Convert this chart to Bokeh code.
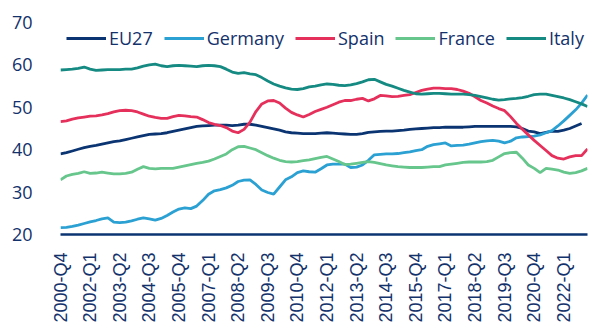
from bokeh.plotting import figure
from bokeh.models import ColumnDataSource, Legend, LegendItem, FixedTicker, Range1d
from bokeh.embed import file_html
from bokeh.resources import INLINE

# ---- data (quarterly, 2000-Q4 .. 2023-Q1) ----
quarters = []
_y, _q = 2000, 4
for _ in range(90):
    quarters.append(f"{_y}-Q{_q}")
    _q += 1
    if _q > 4:
        _q = 1
        _y += 1

eu27 = [39.0, 39.3, 39.7, 40.1, 40.5, 40.8,
        41.0, 41.3, 41.6, 41.9, 42.1, 42.4,
        42.7, 43.0, 43.3, 43.6, 43.7, 43.8,
        44.0, 44.3, 44.6, 44.9, 45.2, 45.5,
        45.6, 45.7, 45.8, 45.8, 45.8, 45.7,
        45.8, 46.0, 46.0, 45.8, 45.5, 45.2,
        44.9, 44.6, 44.2, 44.0, 43.9, 43.8,
        43.8, 43.8, 43.9, 44.0, 43.9, 43.8,
        43.7, 43.6, 43.6, 43.8, 44.1, 44.2,
        44.3, 44.4, 44.4, 44.5, 44.6, 44.8,
        44.9, 45.0, 45.1, 45.2, 45.2, 45.3,
        45.3, 45.3, 45.3, 45.4, 45.5, 45.5,
        45.5, 45.5, 45.5, 45.5, 45.5, 45.4,
        45.0, 44.4, 44.2, 43.8, 44.1, 44.4,
        44.3, 44.6, 45.0, 45.6, 46.2]

germany = [21.6, 21.7, 21.9, 22.2, 22.6, 23.0,
           23.3, 23.7, 23.9, 22.9, 22.8, 22.9,
           23.2, 23.6, 23.9, 23.7, 23.4, 23.8,
           24.5, 25.3, 26.0, 26.3, 26.1, 26.7,
           28.0, 29.5, 30.3, 30.6, 31.0, 31.6,
           32.5, 32.8, 32.9, 31.8, 30.5, 29.9,
           29.5, 31.2, 32.9, 33.6, 34.6, 35.0,
           34.8, 34.7, 35.5, 36.4, 36.6, 36.6,
           36.6, 35.8, 35.9, 36.4, 37.5, 38.8,
           38.9, 39.0, 39.0, 39.1, 39.3, 39.5,
           39.8, 40.0, 40.8, 41.2, 41.4, 41.6,
           40.9, 41.0, 41.1, 41.3, 41.6, 41.9,
           42.1, 42.2, 42.0, 41.6, 42.0, 42.8,
           43.0, 43.1, 43.2, 43.5, 44.0, 44.5,
           45.6, 46.8, 48.1, 49.4, 51.0, 52.9]

spain = [46.6, 46.8, 47.2, 47.5, 47.7, 47.9,
         48.0, 48.2, 48.5, 48.9, 49.2, 49.3,
         49.2, 48.9, 48.4, 47.9, 47.6, 47.4,
         47.4, 47.8, 48.1, 48.0, 47.8, 47.7,
         47.1, 46.4, 46.0, 45.7, 45.2, 44.4,
         44.0, 44.8, 46.5, 49.0, 50.8, 51.5,
         51.6, 51.0, 49.8, 48.8, 48.2, 47.7,
         48.3, 49.0, 49.5, 50.0, 50.6, 51.2,
         51.6, 51.6, 51.9, 52.1, 51.5, 52.0,
         52.8, 52.7, 52.5, 52.6, 52.8, 53.0,
         53.5, 54.0, 54.3, 54.5, 54.5, 54.4,
         54.4, 54.2, 53.8, 53.3, 52.5, 51.6,
         51.0, 50.3, 49.7, 49.2, 47.8, 46.2,
         44.8, 43.5, 42.2, 41.0, 39.8, 38.6,
         38.0, 37.8, 38.3, 38.6, 38.6, 40.2]

france = [32.9, 33.8, 34.2, 34.4, 34.8, 34.4,
          34.5, 34.7, 34.5, 34.3, 34.3, 34.4,
          34.7, 35.4, 36.0, 35.6, 35.5, 35.6,
          35.6, 35.6, 35.9, 36.2, 36.5, 36.8,
          37.0, 37.3, 37.8, 38.4, 39.0, 40.0,
          40.7, 40.8, 40.4, 40.0, 39.3, 38.6,
          38.0, 37.5, 37.2, 37.1, 37.2, 37.4,
          37.6, 37.9, 38.2, 38.4, 37.8, 37.2,
          36.5, 36.6, 36.8, 37.0, 37.2, 37.0,
          36.7, 36.4, 36.2, 36.0, 35.9, 35.8,
          35.8, 35.8, 35.9, 36.0, 36.0, 36.4,
          36.6, 36.8, 37.0, 37.1, 37.1, 37.1,
          37.2, 37.5, 38.3, 39.1, 39.3, 39.4,
          38.0, 36.4, 35.6, 34.6, 35.6, 35.4,
          35.2, 34.7, 34.4, 34.6, 35.0, 35.6]

italy = [58.8, 58.9, 59.0, 59.2, 59.5, 59.0,
         58.7, 58.8, 58.9, 58.9, 58.9, 59.0,
         59.0, 59.3, 59.7, 60.0, 60.2, 59.8,
         59.6, 59.8, 59.9, 59.8, 59.7, 59.6,
         59.8, 59.9, 59.8, 59.6, 59.0, 58.3,
         58.0, 58.2, 57.9, 57.7, 57.0, 56.2,
         55.5, 55.0, 54.6, 54.3, 54.2, 54.4,
         54.8, 55.0, 55.3, 55.5, 55.4, 55.2,
         55.1, 55.3, 55.6, 56.0, 56.5, 56.6,
         56.0, 55.4, 55.0, 54.5, 54.0, 53.6,
         53.2, 53.1, 53.2, 53.3, 53.3, 53.2,
         53.1, 53.1, 53.1, 53.0, 52.8, 52.5,
         52.2, 51.9, 51.7, 51.8, 52.0, 52.1,
         52.3, 52.6, 53.0, 53.1, 53.1, 52.8,
         52.5, 52.2, 51.8, 51.3, 50.8, 50.2]

series_names = ["EU27", "Germany", "Spain", "France", "Italy"]
series_data = [eu27, germany, spain, france, italy]
series_colors = ["#0b3572", "#2ba0d2", "#e5305c", "#66c68c", "#148a82"]

y_ticks = [20, 30, 40, 50, 60, 70]
tick_step = 5  # label every 5th quarter

text_color = "#13316b"

p = figure(width=594, height=335, output_backend="svg", toolbar_location=None,
           x_range=Range1d(0, 89), y_range=Range1d(20, 70),
           min_border_left=60, min_border_right=7, min_border_top=22,
           min_border_bottom=101)
p.outline_line_color = None
p.background_fill_color = "white"
p.border_fill_color = "white"
p.xgrid.visible = False
p.ygrid.visible = False

items = []
for name, data, color in zip(series_names, series_data, series_colors):
    src = ColumnDataSource(dict(x=list(range(len(data))), y=data))
    r = p.line("x", "y", source=src, line_color=color, line_width=2.8)
    items.append(LegendItem(label=name, renderers=[r]))

# y axis
p.yaxis.ticker = FixedTicker(ticks=y_ticks)
p.yaxis.axis_line_color = None
p.yaxis.major_tick_line_color = None
p.yaxis.minor_tick_line_color = None
p.yaxis.major_label_text_font = "Open Sans"
p.yaxis.major_label_text_font_size = "18px"
p.yaxis.major_label_text_color = text_color
p.yaxis.major_label_standoff = 22

# x axis
xt = list(range(0, len(quarters), tick_step))
p.xaxis.ticker = FixedTicker(ticks=xt)
p.xaxis.major_label_overrides = {i: quarters[i] for i in xt}
p.xaxis.major_label_orientation = 1.5708
p.xaxis.axis_line_color = "#0b3572"
p.xaxis.axis_line_width = 2.5
p.xaxis.major_tick_line_color = None
p.xaxis.minor_tick_line_color = None
p.xaxis.major_label_text_font = "Liberation Sans"
p.xaxis.major_label_text_font_size = "18px"
p.xaxis.major_label_text_color = text_color
p.xaxis.major_label_standoff = 12

legend = Legend(items=items, orientation="horizontal", location=(6, 184),
                glyph_width=40, glyph_height=20, label_standoff=3, spacing=11,
                padding=0, margin=0, border_line_color=None,
                background_fill_alpha=0,
                label_text_font="Open Sans", label_text_font_size="18px",
                label_text_color=text_color)
p.add_layout(legend, "center")

open("out.html", "w").write(file_html(p, INLINE))
